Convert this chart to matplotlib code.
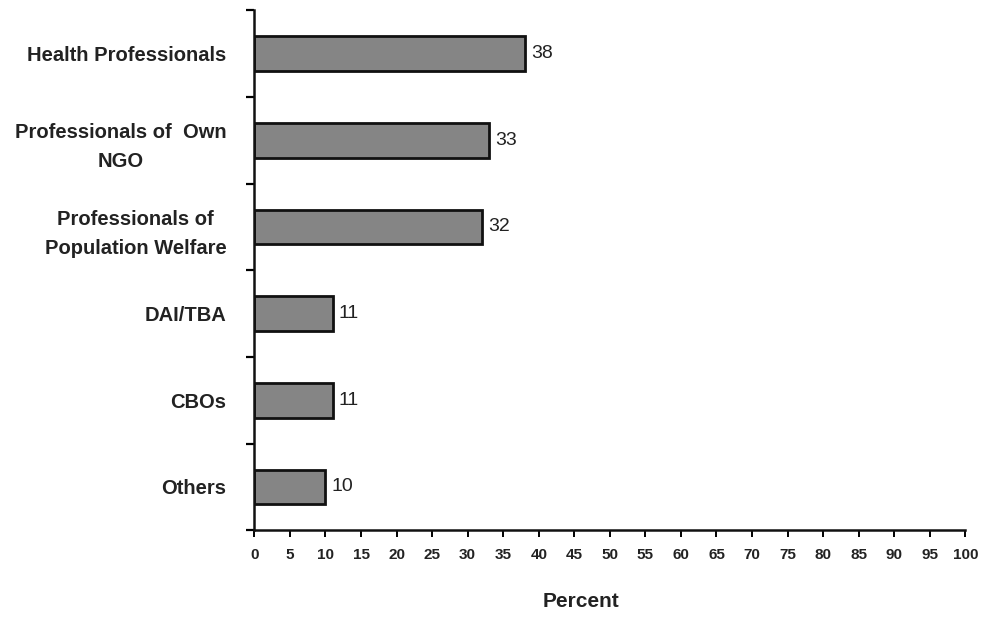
import matplotlib.pyplot as plt

categories = ["Health Professionals", "Professionals of  Own\nNGO",
              "Professionals of\nPopulation Welfare", "DAI/TBA", "CBOs", "Others"]
percent = [38, 33, 32, 11, 11, 10]
xticks = list(range(0, 101, 5))

plt.rcParams['font.family'] = ['Liberation Sans', 'DejaVu Sans']

fig = plt.figure(figsize=(9.86, 6.38), dpi=100)
ax = fig.add_axes([0.258, 0.169, 0.721, 0.815])

ypos = list(range(len(categories)))[::-1]
bars = ax.barh(ypos, percent, height=0.4, color="#858585",
               edgecolor="#111111", linewidth=2)

for y, v in zip(ypos, percent):
    ax.text(v + 0.9, y, str(v), va="center", ha="left", fontsize=14, color="#222222")

ax.set_xlim(0, 100)
ax.set_ylim(-0.5, len(categories) - 0.5)
ax.set_xticks(xticks)
ax.set_xticklabels([str(t) for t in xticks], fontsize=11, fontweight="bold", color="#222222")

# category names sit between the boundary ticks
ax.set_yticks(ypos)
ax.set_yticklabels(categories, fontsize=14.5, fontweight="bold", color="#222222",
                   linespacing=1.65, multialignment="center")
ax.tick_params(axis="y", length=0, pad=20)
ax.set_yticks([y + 0.5 for y in range(-1, len(categories))], minor=True)
ax.tick_params(axis="y", which="minor", length=6, width=1.6, direction="out")
ax.tick_params(axis="x", length=5, width=1.4, direction="out", pad=8)

for s in ["top", "right"]:
    ax.spines[s].set_visible(False)
for s in ["left", "bottom"]:
    ax.spines[s].set_linewidth(1.8)
    ax.spines[s].set_color("#111111")

ax.set_xlabel("Percent", fontsize=15, fontweight="bold", color="#222222")
ax.xaxis.set_label_coords(0.46, -0.118)

fig.savefig("out.png", dpi=100)
